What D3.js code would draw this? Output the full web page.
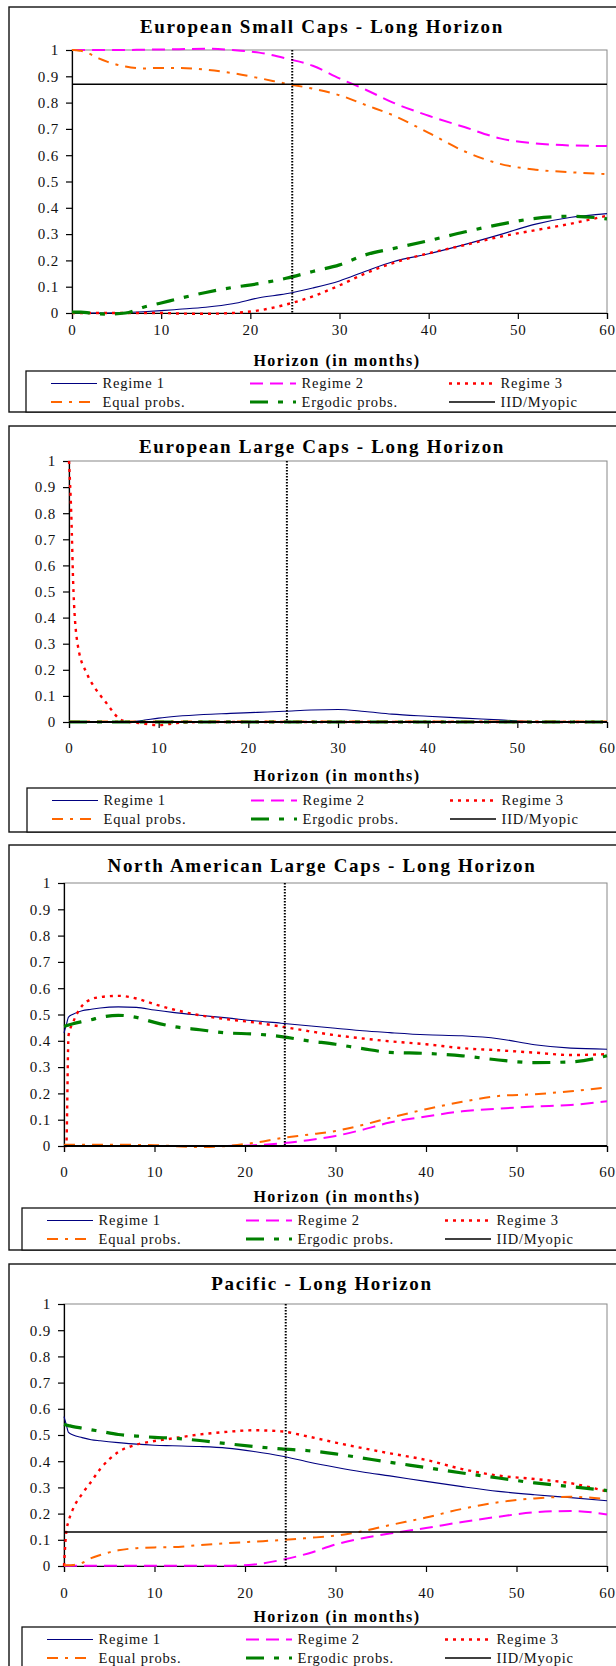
<!DOCTYPE html>
<html>
<head>
<meta charset="utf-8">
<script src="https://cdn.jsdelivr.net/npm/d3@7"></script>
<style>
  body { margin: 0; background: #fff; }
  svg { display: block; font-family: "Liberation Serif", "Times New Roman", serif; }
</style>
</head>
<body>
<div id="chart"></div>
<script>
// horizon grid (months) shared by every series
const months = [0, 0.25, 0.5, 1, 2, 3, 4, 6, 8, 10, 12, 15, 18, 21, 24, 27, 30, 33, 36, 40, 44, 48, 52, 56, 60];

const seriesNames = ["Regime 1", "Regime 2", "Regime 3", "Equal probs.", "Ergodic probs.", "IID/Myopic"];
const panelTitles = [
    "European Small Caps - Long Horizon",
    "European Large Caps - Long Horizon",
    "North American Large Caps - Long Horizon",
    "Pacific - Long Horizon"
];
const xTicks = [0, 10, 20, 30, 40, 50, 60];
const yTicks = [0, 0.1, 0.2, 0.3, 0.4, 0.5, 0.6, 0.7, 0.8, 0.9, 1];
const xLabel = "Horizon (in months)";

// European small caps
const esRegime1 = [0, 0, 0, 0, 0, 0, 0, 0.002, 0.005, 0.009, 0.014, 0.022, 0.035, 0.058, 0.073, 0.095, 0.122, 0.16, 0.195, 0.225, 0.26, 0.298, 0.338, 0.364, 0.378];
const esRegime2 = [1, 1, 1, 1, 1, 1, 1, 1, 1.001, 1.002, 1.003, 1.005, 1.0, 0.99, 0.968, 0.94, 0.892, 0.848, 0.8, 0.75, 0.707, 0.664, 0.645, 0.637, 0.635];
const esRegime3 = [0, 0, 0, 0, 0, 0, 0, 0, 0, 0, -0.002, -0.003, 0, 0.01, 0.032, 0.063, 0.105, 0.152, 0.19, 0.227, 0.258, 0.29, 0.315, 0.34, 0.37];
const esEqual = [1, 1, 0.999, 0.997, 0.985, 0.968, 0.955, 0.937, 0.93, 0.932, 0.932, 0.925, 0.912, 0.893, 0.872, 0.853, 0.828, 0.79, 0.752, 0.685, 0.615, 0.567, 0.545, 0.535, 0.528];
const esErgodic = [0.003, 0.003, 0.003, 0.003, 0, -0.003, -0.004, 0, 0.022, 0.038, 0.055, 0.078, 0.097, 0.112, 0.132, 0.158, 0.183, 0.222, 0.245, 0.275, 0.308, 0.337, 0.36, 0.368, 0.358];

// European large caps
const elRegime1 = [0, 0, 0, 0, 0, 0, 0, 0, 0.005, 0.015, 0.022, 0.029, 0.033, 0.037, 0.041, 0.046, 0.048, 0.04, 0.03, 0.022, 0.015, 0.008, 0.001, 0, 0];
const elRegime2 = [0, 0, 0, 0, 0, 0, 0, 0, 0, 0, 0, 0, 0, 0, 0, 0, 0, 0, 0, 0, 0, 0, 0, 0, 0];
const elRegime3 = [1, 0.8, 0.5, 0.29, 0.185, 0.125, 0.08, 0.005, -0.005, -0.012, -0.004, 0, 0, 0, 0, 0, 0, 0, 0, 0, 0, 0, 0, 0, 0];
const elEqual = [0.002, 0.002, 0.002, 0.002, 0.002, 0.002, 0.002, 0.002, 0.002, 0.002, 0.002, 0.002, 0.002, 0.002, 0.002, 0.002, 0.002, 0.002, 0.002, 0.002, 0.002, 0.002, 0.002, 0.002, 0.002];
const elErgodic = [0, 0, 0, 0, 0, 0, 0, 0, 0, 0, 0, 0, 0, 0, 0, 0, 0, 0, 0, 0, 0, 0, 0, 0, 0];

// North American large caps
const naRegime1 = [0.43, 0.46, 0.49, 0.501, 0.514, 0.52, 0.525, 0.529, 0.527, 0.517, 0.508, 0.497, 0.487, 0.476, 0.467, 0.457, 0.448, 0.438, 0.431, 0.423, 0.419, 0.408, 0.385, 0.372, 0.368];
const naRegime2 = [0, 0, 0, 0, 0, 0, 0, 0, 0, 0, 0, 0, 0, 0.003, 0.01, 0.022, 0.038, 0.062, 0.089, 0.112, 0.132, 0.142, 0.15, 0.156, 0.17];
const naRegime3 = [0, 0, 0.42, 0.47, 0.533, 0.558, 0.566, 0.571, 0.561, 0.539, 0.52, 0.497, 0.482, 0.47, 0.454, 0.437, 0.421, 0.409, 0.398, 0.387, 0.372, 0.364, 0.355, 0.346, 0.349];
const naEqual = [0.005, 0.005, 0.005, 0.005, 0.005, 0.005, 0.005, 0.005, 0.004, 0.003, 0.0, -0.004, 0.0, 0.012, 0.03, 0.043, 0.057, 0.08, 0.107, 0.14, 0.168, 0.19, 0.197, 0.208, 0.223];
const naErgodic = [0.455, 0.457, 0.46, 0.465, 0.473, 0.48, 0.489, 0.497, 0.489, 0.47, 0.455, 0.442, 0.43, 0.426, 0.416, 0.4, 0.387, 0.37, 0.356, 0.352, 0.343, 0.327, 0.317, 0.32, 0.343];

// Pacific
const paRegime1 = [0.57, 0.54, 0.51, 0.5, 0.49, 0.482, 0.478, 0.471, 0.465, 0.461, 0.459, 0.456, 0.45, 0.437, 0.42, 0.397, 0.377, 0.359, 0.344, 0.323, 0.303, 0.285, 0.272, 0.261, 0.249];
const paRegime2 = [0.001, 0.001, 0.001, 0.001, 0.001, 0.001, 0.001, 0.001, 0.001, 0.001, 0.001, 0.001, 0.001, 0.006, 0.023, 0.048, 0.082, 0.106, 0.124, 0.145, 0.168, 0.188, 0.205, 0.21, 0.197];
const paRegime3 = [0, 0.13, 0.17, 0.218, 0.275, 0.322, 0.37, 0.435, 0.463, 0.477, 0.487, 0.502, 0.512, 0.518, 0.514, 0.494, 0.471, 0.45, 0.43, 0.405, 0.37, 0.345, 0.332, 0.316, 0.284];
const paEqual = [0.003, 0.003, 0.003, 0.004, 0.012, 0.03, 0.042, 0.06, 0.068, 0.071, 0.072, 0.08, 0.087, 0.093, 0.099, 0.107, 0.116, 0.133, 0.156, 0.185, 0.218, 0.243, 0.258, 0.264, 0.255];
const paErgodic = [0.54, 0.538, 0.536, 0.532, 0.526, 0.52, 0.514, 0.502, 0.496, 0.491, 0.488, 0.479, 0.467, 0.456, 0.447, 0.44, 0.428, 0.412, 0.396, 0.376, 0.355, 0.336, 0.317, 0.303, 0.288];

// IID/Myopic level and dotted vertical marker (months) for each panel
const iidLevels = [0.87, 0, 0, 0.13];
const markerMonths = [24.7, 24.3, 24.4, 24.5];

const panelSeries = [
    [esRegime1, esRegime2, esRegime3, esEqual, esErgodic],
    [elRegime1, elRegime2, elRegime3, elEqual, elErgodic],
    [naRegime1, naRegime2, naRegime3, naEqual, naErgodic],
    [paRegime1, paRegime2, paRegime3, paEqual, paErgodic]
];

// line styles, same order as seriesNames
const styles = [
    {color: "#000080", width: 1.1, dash: null},
    {color: "#ff00ff", width: 2, dash: "13,7"},
    {color: "#ff0000", width: 2.4, dash: "3,5"},
    {color: "#ff6600", width: 2, dash: "11,7,3,7"},
    {color: "#008000", width: 3.2, dash: "18,10,5,10"},
    {color: "#000000", width: 1.6, dash: null}
];

// page layout of the four framed charts
const layout = [
    {top: 7, bottom: 412, plot: {l: 72, r: 607, t: 50, b: 313}, titleY: 33, tickY: 335, axisY: 366, legX: 26, legY: 371},
    {top: 426, bottom: 832, plot: {l: 69, r: 607, t: 461, b: 722}, titleY: 453, tickY: 753, axisY: 781, legX: 27, legY: 788},
    {top: 845, bottom: 1250, plot: {l: 64, r: 607, t: 883, b: 1146}, titleY: 872, tickY: 1177, axisY: 1202, legX: 22, legY: 1208},
    {top: 1264, bottom: 1700, plot: {l: 64, r: 607, t: 1304, b: 1566}, titleY: 1290, tickY: 1598, axisY: 1622, legX: 22, legY: 1627}
];

const W = 616, H = 1666;
const svg = d3.select("#chart").append("svg")
    .attr("width", W)
    .attr("height", H);

svg.append("rect").attr("width", W).attr("height", H).attr("fill", "#fff");

function drawPanel(p) {
    const L = layout[p];
    const g = svg.append("g");

    // outer frame
    g.append("rect")
        .attr("x", 9).attr("y", L.top)
        .attr("width", 640).attr("height", L.bottom - L.top)
        .attr("fill", "#fff").attr("stroke", "#111").attr("stroke-width", 1.4);

    g.append("text")
        .attr("x", 322).attr("y", L.titleY)
        .attr("text-anchor", "middle")
        .attr("font-size", 19).attr("font-weight", "bold")
        .attr("letter-spacing", 1.7)
        .text(panelTitles[p]);

    const x = d3.scaleLinear().domain([0, 60]).range([L.plot.l, L.plot.r]);
    const y = d3.scaleLinear().domain([0, 1]).range([L.plot.b, L.plot.t]);

    // plot area border
    g.append("rect")
        .attr("x", L.plot.l).attr("y", L.plot.t)
        .attr("width", L.plot.r - L.plot.l).attr("height", L.plot.b - L.plot.t)
        .attr("fill", "none").attr("stroke", "#888").attr("stroke-width", 1);

    // axes
    const yAxis = g.append("g")
        .attr("transform", "translate(" + L.plot.l + ",0)")
        .call(d3.axisLeft(y).tickValues(yTicks).tickSize(6).tickPadding(7).tickFormat(d3.format("~g")));
    const xAxis = g.append("g")
        .attr("transform", "translate(0," + L.plot.b + ")")
        .call(d3.axisBottom(x).tickValues(xTicks).tickSize(6).tickPadding(0).tickFormat(d3.format("d")));
    [yAxis, xAxis].forEach(a => {
        a.select(".domain").attr("stroke", "#000").attr("stroke-width", 1.2);
        a.selectAll(".tick line").attr("stroke", "#000").attr("stroke-width", 1.2);
        a.selectAll("text")
            .attr("fill", "#111")
            .attr("font-family", "Liberation Serif, serif")
            .attr("font-size", 15)
            .attr("letter-spacing", 0.8);
    });
    xAxis.selectAll("text").attr("dy", null).attr("y", L.tickY - L.plot.b);

    g.append("text")
        .attr("x", 337).attr("y", L.axisY)
        .attr("text-anchor", "middle")
        .attr("font-size", 16).attr("font-weight", "bold")
        .attr("letter-spacing", 1.5)
        .text(xLabel);

    const line = d3.line()
        .x(d => x(d[0]))
        .y(d => y(d[1]))
        .curve(d3.curveMonotoneX);

    panelSeries[p].forEach((vals, i) => {
        const st = styles[i];
        g.append("path")
            .datum(months.map((m, k) => [m, vals[k]]))
            .attr("fill", "none")
            .attr("stroke", st.color)
            .attr("stroke-width", st.width)
            .attr("stroke-dasharray", st.dash)
            .attr("d", line);
    });

    // IID / myopic level
    g.append("path")
        .datum([[0, iidLevels[p]], [60, iidLevels[p]]])
        .attr("fill", "none")
        .attr("stroke", styles[5].color)
        .attr("stroke-width", p === 0 || p === 3 ? 1.6 : 2.2)
        .attr("d", d3.line().x(d => x(d[0])).y(d => y(d[1])));

    // dotted vertical marker
    g.append("line")
        .attr("x1", x(markerMonths[p])).attr("x2", x(markerMonths[p]))
        .attr("y1", y(1)).attr("y2", y(0))
        .attr("stroke", "#000").attr("stroke-width", 2)
        .attr("stroke-dasharray", "1.5,1.5");

    // legend
    const leg = g.append("g");
    leg.append("rect")
        .attr("x", L.legX).attr("y", L.legY)
        .attr("width", 640).attr("height", L.bottom - L.legY)
        .attr("fill", "#fff").attr("stroke", "#111").attr("stroke-width", 1.3);
    seriesNames.forEach((name, i) => {
        const col = i % 3, row = Math.floor(i / 3);
        const sx = L.legX + 25 + col * 199;
        const sy = L.legY + 12.5 + row * 18.5;
        const st = styles[i];
        leg.append("line")
            .attr("x1", sx).attr("x2", sx + 46)
            .attr("y1", sy).attr("y2", sy)
            .attr("stroke", st.color)
            .attr("stroke-width", Math.min(st.width, 3))
            .attr("stroke-dasharray", st.dash);
        leg.append("text")
            .attr("x", sx + 51.5).attr("y", sy + 4.8)
            .attr("font-size", 14.5)
            .attr("letter-spacing", 0.8)
            .attr("fill", "#111")
            .text(name);
    });
}

for (let p = 0; p < 4; p++) drawPanel(p);
</script>
</body>
</html>
